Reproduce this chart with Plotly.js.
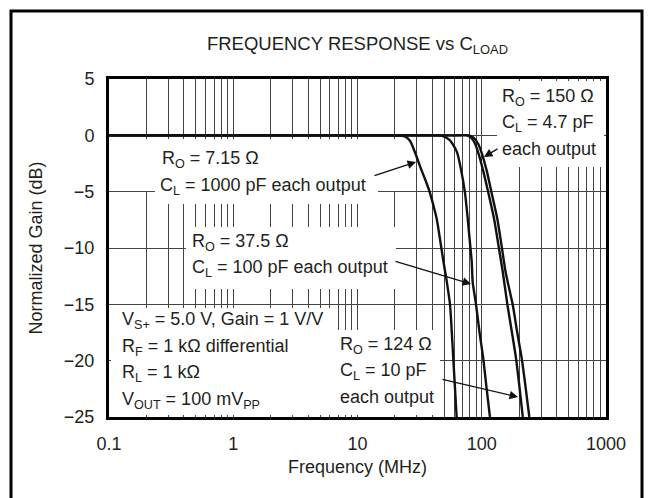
<!DOCTYPE html>
<html>
<head>
<meta charset="utf-8">
<script src="https://cdn.plot.ly/plotly-3.0.1.min.js"></script>
<style>html,body{margin:0;padding:0;background:#fff;}#chart{width:649px;height:498px;}</style>
</head>
<body>
<div id="chart"></div>
<script>
// ---- data ----
const xTickVals = [0.1, 1, 10, 100, 1000];
const xTickText = ['0.1', '1', '10', '100', '1000'];
const yTickVals = [5, 0, -5, -10, -15, -20, -25];
const yTickText = ['5', '0', '\u22125', '\u221210', '\u221215', '\u221220', '\u221225'];

// R_O = 7.15 ohm, C_L = 1000 pF
const freq715 = [0.1, 1, 10, 20, 24, 26.5, 29, 32, 35, 38.3, 41, 43.4, 47, 49.5, 52, 55.5, 59, 62.8];
const gain715 = [0, 0, 0, 0, -0.1, -0.5, -1.5, -2.8, -3.9, -5.1, -6.3, -7.4, -9.8, -11.4, -12.8, -15, -19.8, -25];
// R_O = 37.5 ohm, C_L = 100 pF
const freq375 = [0.1, 10, 40, 48, 55, 60, 63.5, 68, 73.3, 77.1, 80, 83, 84.5, 89.9, 96, 102.8, 109, 116.4];
const gain375 = [0, 0, 0, -0.05, -0.4, -1.0, -1.55, -3.0, -5.1, -7.4, -9.3, -11.2, -13, -15, -17.5, -19.8, -22.3, -25];
// R_O = 124 ohm, C_L = 10 pF
const freq124 = [0.1, 10, 60, 76, 82, 88, 93.8, 103, 113, 125.6, 136, 148, 160.7, 175, 188.7, 201, 213.9];
const gain124 = [0, 0, 0, 0, -0.2, -0.7, -1.55, -3.2, -5.1, -7.4, -9.7, -12.2, -15, -17.5, -19.8, -22.3, -25];
// R_O = 150 ohm, C_L = 4.7 pF
const freq150 = [0.1, 10, 60, 79, 86, 93, 99.8, 110, 120, 133.4, 144, 156, 177.3, 193, 209.8, 225, 241.5];
const gain150 = [0, 0, 0, 0, -0.2, -0.7, -1.55, -3.2, -5.1, -7.4, -9.7, -12.2, -15, -17.5, -19.8, -22.3, -25];

// ---- layout helpers (pixel -> paper) ----
const W = 649, H = 498;
const M = {l: 109, r: 43, t: 79, b: 81};
const PW = W - M.l - M.r, PH = H - M.t - M.b;
const px = x => (x - M.l) / PW;
const py = y => (H - M.b - y) / PH;

const FONT = 'Liberation Sans, Arial, Helvetica, sans-serif';
const INK = '#231f20';

function curve(x, y) {
  return {x: x, y: y, type: 'scatter', mode: 'lines',
          line: {color: '#111', width: 2.4, shape: 'spline', smoothing: 0.6},
          hoverinfo: 'skip', showlegend: false};
}

const traces = [curve(freq715, gain715), curve(freq375, gain375),
                curve(freq124, gain124), curve(freq150, gain150)];

// white boxes that mask the grid behind the notes
const boxes = [
  [497, 81, 604, 167],
  [113, 139, 402, 191],
  [155, 191, 378, 204],
  [186, 227, 396, 289],
  [111, 308, 333, 415],
  [333, 330, 440, 415]
];
const shapes = boxes.map(b => ({type: 'rect', xref: 'paper', yref: 'paper',
  x0: px(b[0]), x1: px(b[2]), y0: py(b[3]), y1: py(b[1]),
  fillcolor: '#fff', line: {width: 0}, layer: 'above'}));
// outer frame
shapes.push({type: 'rect', xref: 'paper', yref: 'paper',
  x0: px(11), x1: px(642), y0: py(11), y1: py(520),
  line: {color: '#000', width: 3}, fillcolor: 'rgba(0,0,0,0)', layer: 'above'});

const notes = [
  ['R<sub>O</sub> = 150 \u03A9', 500, 97],
  ['C<sub>L</sub> = 4.7 pF', 500, 123],
  ['each output', 500, 149],
  ['R<sub>O</sub> = 7.15 \u03A9', 160, 159],
  ['C<sub>L</sub> = 1000 pF each output', 158, 186],
  ['R<sub>O</sub> = 37.5 \u03A9', 190, 242],
  ['C<sub>L</sub> = 100 pF each output', 190, 268],
  ['V<sub>S+</sub> = 5.0 V, Gain = 1 V/V', 120, 320],
  ['R<sub>F</sub> = 1 k\u03A9 differential', 120, 347],
  ['R<sub>L</sub> = 1 k\u03A9', 120, 373],
  ['V<sub>OUT</sub> = 100 mV<sub>PP</sub>', 120, 400],
  ['R<sub>O</sub> = 124 \u03A9', 338, 345],
  ['C<sub>L</sub> = 10 pF', 338, 371],
  ['each output', 338, 397]
];
const annotations = notes.map(n => ({text: n[0], xref: 'paper', yref: 'paper',
  x: px(n[1]), y: py(n[2]), xanchor: 'left', yanchor: 'middle', showarrow: false,
  font: {family: FONT, size: 18, color: INK}}));

// arrows: [headX, headY, tailX, tailY]
const arrows = [
  [416, 162, 373, 176],
  [471, 284, 394, 261],
  [518, 397, 441, 379],
  [484, 157, 499, 148]
];
arrows.forEach(a => annotations.push({text: '', xref: 'paper', yref: 'paper',
  x: px(a[0]), y: py(a[1]), ax: a[2] - a[0], ay: a[3] - a[1],
  showarrow: true, arrowhead: 2, arrowsize: 1.3, arrowwidth: 1.3, arrowcolor: '#111', standoff: 0}));

const layout = {
  width: W, height: H,
  margin: M,
  paper_bgcolor: '#fff', plot_bgcolor: '#fff',
  font: {family: FONT, size: 18, color: INK},
  title: {text: 'FREQUENCY RESPONSE vs C<sub>LOAD</sub>', xref: 'paper', x: 0.5,
          yref: 'container', y: 1 - 44 / H, yanchor: 'middle',
          font: {family: FONT, size: 18.5, color: INK}},
  xaxis: {type: 'log', range: [-1, 3], tickvals: xTickVals, ticktext: xTickText,
          ticks: '', ticklabelstandoff: 8,
          showgrid: true, gridcolor: '#444', gridwidth: 1,
          minor: {dtick: 'D1', showgrid: true, gridcolor: '#444', gridwidth: 1, ticks: ''},
          showline: true, linecolor: '#000', linewidth: 3, mirror: true, zeroline: false,
          title: {text: 'Frequency (MHz)', standoff: 8, font: {family: FONT, size: 18, color: INK}}},
  yaxis: {range: [-25, 5], tickvals: yTickVals, ticktext: yTickText,
          ticks: '', ticklabelstandoff: 8,
          showgrid: true, gridcolor: '#444', gridwidth: 1,
          showline: true, linecolor: '#000', linewidth: 3, mirror: true, zeroline: false,
          title: {text: 'Normalized Gain (dB)', standoff: 17, font: {family: FONT, size: 18, color: INK}}},
  shapes: shapes,
  annotations: annotations
};

Plotly.newPlot('chart', traces, layout, {staticPlot: true, displayModeBar: false});
</script>
</body>
</html>
